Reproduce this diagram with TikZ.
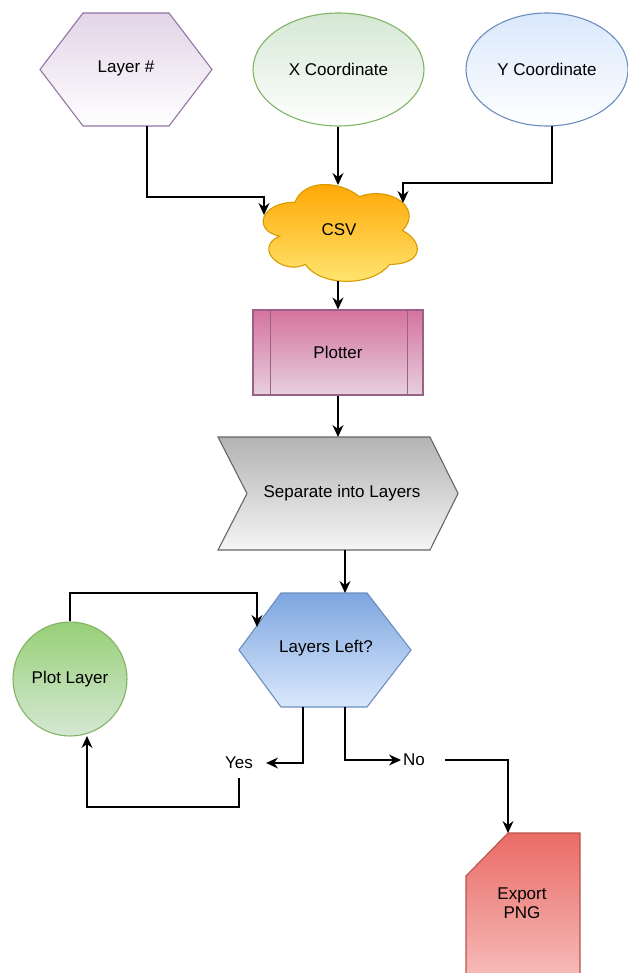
\documentclass[tikz,border=0pt]{standalone}
\usepackage{fontspec}
\setmainfont{Liberation Sans}
\usetikzlibrary{shapes.geometric,arrows.meta,calc}
\definecolor{purB}{HTML}{9673A6}
\definecolor{purF}{HTML}{E1D5E7}
\definecolor{grnB}{HTML}{82B366}
\definecolor{grnF}{HTML}{D5E8D4}
\definecolor{grnD}{HTML}{97D077}
\definecolor{bluB}{HTML}{6C8EBF}
\definecolor{bluF}{HTML}{DAE8FC}
\definecolor{bluD}{HTML}{7EA6E0}
\definecolor{orgB}{HTML}{D79B00}
\definecolor{orgT}{HTML}{FFA500}
\definecolor{orgL}{HTML}{FFE875}
\definecolor{pnkB}{HTML}{996185}
\definecolor{pnkT}{HTML}{D5739D}
\definecolor{pnkL}{HTML}{E6D0DE}
\definecolor{gryB}{HTML}{666666}
\definecolor{gryT}{HTML}{B3B3B3}
\definecolor{gryL}{HTML}{F5F5F5}
\definecolor{redB}{HTML}{B85450}
\definecolor{redT}{HTML}{EA6B66}
\definecolor{redL}{HTML}{F8CECC}
\begin{document}
\begin{tikzpicture}[x=1pt,y=-1pt,
  font=\fontsize{17}{20}\selectfont,
  shp/.style={line width=1.1pt},
  lbl/.style={inner sep=0pt, align=center},
  arr/.style={line width=1.3pt, -{Stealth[length=12pt,width=11pt,inset=4pt]}},
  ln/.style={line width=1.3pt}]
\useasboundingbox (0,0) rectangle (628,973);
\clip (0,0) rectangle (628,973);

% Layer # hexagon
\path[shp, draw=purB, top color=purF, bottom color=white]
  (40,69.5) -- (83,13) -- (169,13) -- (212,69.5) -- (169,126) -- (83,126) -- cycle;
\node[lbl] (lay) at (126,68) {Layer \#};

% X Coordinate
\node[shp, ellipse, draw=grnB, top color=grnF, bottom color=white,
  minimum width=171pt, minimum height=113pt, inner sep=0pt] (xc) at (338.5,69.5) {X Coordinate};

% Y Coordinate
\node[shp, ellipse, draw=bluB, top color=bluF, bottom color=white,
  minimum width=162pt, minimum height=113pt, inner sep=0pt] (yc) at (547,69.5) {Y Coordinate};

% CSV cloud (draw.io cloud outline in a 172x113 box)
\begin{scope}[shift={(252,174)}, x=172pt, y=-113pt]
\path[shp, draw=orgB, top color=orgT, bottom color=orgL]
  (0.25,0.25) .. controls (0.05,0.25) and (0,0.5) .. (0.16,0.55)
  .. controls (0,0.66) and (0.18,0.9) .. (0.31,0.8)
  .. controls (0.4,1) and (0.7,1) .. (0.8,0.8)
  .. controls (1,0.8) and (1,0.6) .. (0.875,0.5)
  .. controls (1,0.3) and (0.8,0.1) .. (0.625,0.2)
  .. controls (0.5,0.05) and (0.3,0.05) .. (0.25,0.25) -- cycle;
\end{scope}
\node[lbl] (cs) at (339,230) {CSV};

% Plotter
\node[shp, rectangle, draw=pnkB, top color=pnkT, bottom color=pnkL,
  minimum width=170pt, minimum height=85pt] (pl) at (338,352.5) {Plotter};
\draw[shp, draw=pnkB] ($(pl.north west)+(18,0)$) -- ($(pl.south west)+(18,0)$);
\draw[shp, draw=pnkB] ($(pl.north east)+(-16,0)$) -- ($(pl.south east)+(-16,0)$);

% Separate into Layers (chevron)
\path[shp, draw=gryB, top color=gryT, bottom color=gryL]
  (218,437) -- (430,437) -- (458,493.5) -- (430,550) -- (218,550) -- (247,493.5) -- cycle;
\node[lbl] (sep) at (342,493) {Separate into Layers};

% Layers Left? hexagon
\path[shp, draw=bluB, top color=bluD, bottom color=bluF]
  (239,650) -- (281,593) -- (367,593) -- (411,650) -- (367,707) -- (281,707) -- cycle;
\node[lbl] (ll) at (326,648) {Layers Left?};

% Plot Layer circle
\node[shp, circle, draw=grnB, top color=grnD, bottom color=grnF,
  minimum size=114pt, inner sep=0pt] (pc) at (70,679) {Plot Layer};

% Export PNG card
\path[shp, draw=redB, top color=redT, bottom color=redL]
  (508,833) -- (580,833) -- (580,1010) -- (466,1010) -- (466,876) -- cycle;
\node[lbl] (ex) at (522,903) {Export\\[-1pt]PNG};

% labels
\node[lbl] (yes) at (239,763) {Yes};
\node[lbl, anchor=west] (no) at (403,760) {No};

% ports
\coordinate (layOut) at (147,126);
\coordinate (csvInL) at (264,215);
\coordinate (csvTop) at (338,185);
\coordinate (yOut) at (552,126);
\coordinate (csvInR) at (403,203);
\coordinate (csvBot) at (338,281);
\coordinate (sepTop) at (338,437);
\coordinate (sepBot) at (345,550);
\coordinate (llTop) at (345,593);
\coordinate (llInL) at (257,627);
\coordinate (llOutY) at (303,707);
\coordinate (llOutN) at (345,707);
\coordinate (pcIn) at (87,736);
\coordinate (exTop) at (508,833);

% connectors
\draw[arr] (layOut) |- ($(csvInL)+(0,-18)$) -- (csvInL);
\draw[arr] (xc.south -| csvTop) -- (csvTop);
\draw[arr] (yOut) |- ($(csvInR)+(0,-20)$) -- (csvInR);
\draw[arr] (csvBot) -- (pl.north);
\draw[arr] (pl.south) -- (sepTop);
\draw[arr] (sepBot) -- (llTop);
\draw[arr] (pc.north) |- ($(llInL)+(0,-34)$) -- (llInL);
\draw[arr] (llOutY) |- ([xshift=13pt]yes.east);
\draw[arr] (llOutN) |- ([xshift=-2pt]no.west);
\draw[arr] ([yshift=-9pt]yes.south) -- ++(0,29) -| (pcIn);
\draw[arr] ([xshift=20pt]no.east) -| (exTop);
\end{tikzpicture}
\end{document}
